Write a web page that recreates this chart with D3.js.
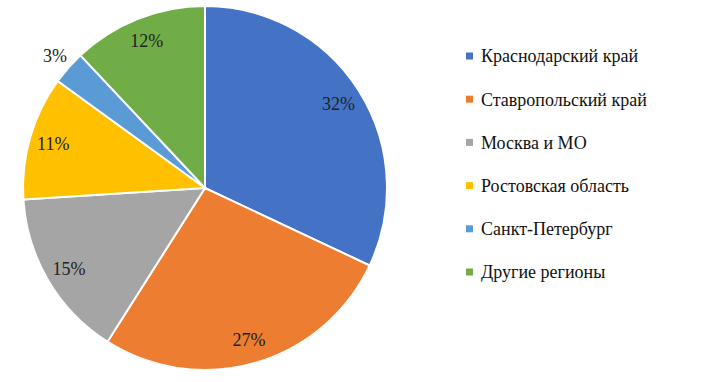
<!DOCTYPE html>
<html>
<head>
<meta charset="utf-8">
<script src="https://cdn.jsdelivr.net/npm/d3@7"></script>
<style>
  body { margin: 0; background: #fff; }
</style>
</head>
<body>
<div id="chart"></div>
<script>
"use strict";

var regions = ["Краснодарский край", "Ставропольский край", "Москва и МО",
  "Ростовская область", "Санкт-Петербург", "Другие регионы"];
var shares = [32, 27, 15, 11, 3, 12];
var colors = ["#4472C4", "#ED7D31", "#A5A5A5", "#FFC000", "#5B9BD5", "#70AD47"];

var width = 702, height = 382;
var cx = 205, cy = 188, radius = 182;
var serif = "'Liberation Serif', 'Times New Roman', Times, serif";

var svg = d3.select("#chart").append("svg")
  .attr("width", width).attr("height", height);

var color = d3.scaleOrdinal().domain(regions).range(colors);

var pie = d3.pie().sort(null).value(function (d) { return d.value; });
var data = regions.map(function (r, i) { return { name: r, value: shares[i] }; });
var arcs = pie(data);

var arc = d3.arc().innerRadius(0).outerRadius(radius);
var labelArc = d3.arc().innerRadius(158).outerRadius(158);
var outerLabelArc = d3.arc().innerRadius(200).outerRadius(200);

var g = svg.append("g").attr("transform", "translate(" + cx + "," + cy + ")");

g.selectAll("path").data(arcs).enter().append("path")
  .attr("d", arc)
  .attr("fill", function (d) { return color(d.data.name); })
  .attr("stroke", "#fff")
  .attr("stroke-width", 2);

// small slices get their label outside the pie
g.selectAll("text.lbl").data(arcs).enter().append("text")
  .attr("class", "lbl")
  .attr("transform", function (d) {
    var a = d.data.value < 5 ? outerLabelArc : labelArc;
    return "translate(" + a.centroid(d) + ")";
  })
  .attr("text-anchor", "middle")
  .attr("dy", "0.35em")
  .style("font-family", serif)
  .attr("font-size", 18)
  .attr("fill", "#222")
  .text(function (d) { return d.data.value + "%"; });

// legend
var legend = svg.append("g").attr("transform", "translate(466,56)");
var rowGap = 43.2;
var items = legend.selectAll("g").data(regions).enter().append("g")
  .attr("transform", function (d, i) { return "translate(0," + (i * rowGap) + ")"; });

items.append("rect")
  .attr("x", 0).attr("y", -3.5)
  .attr("width", 7).attr("height", 7)
  .attr("fill", function (d) { return color(d); });

items.append("text")
  .attr("x", 15).attr("dy", "0.35em")
  .style("font-family", serif)
  .attr("font-size", 18)
  .attr("fill", "#111")
  .text(function (d) { return d; });
</script>
</body>
</html>
